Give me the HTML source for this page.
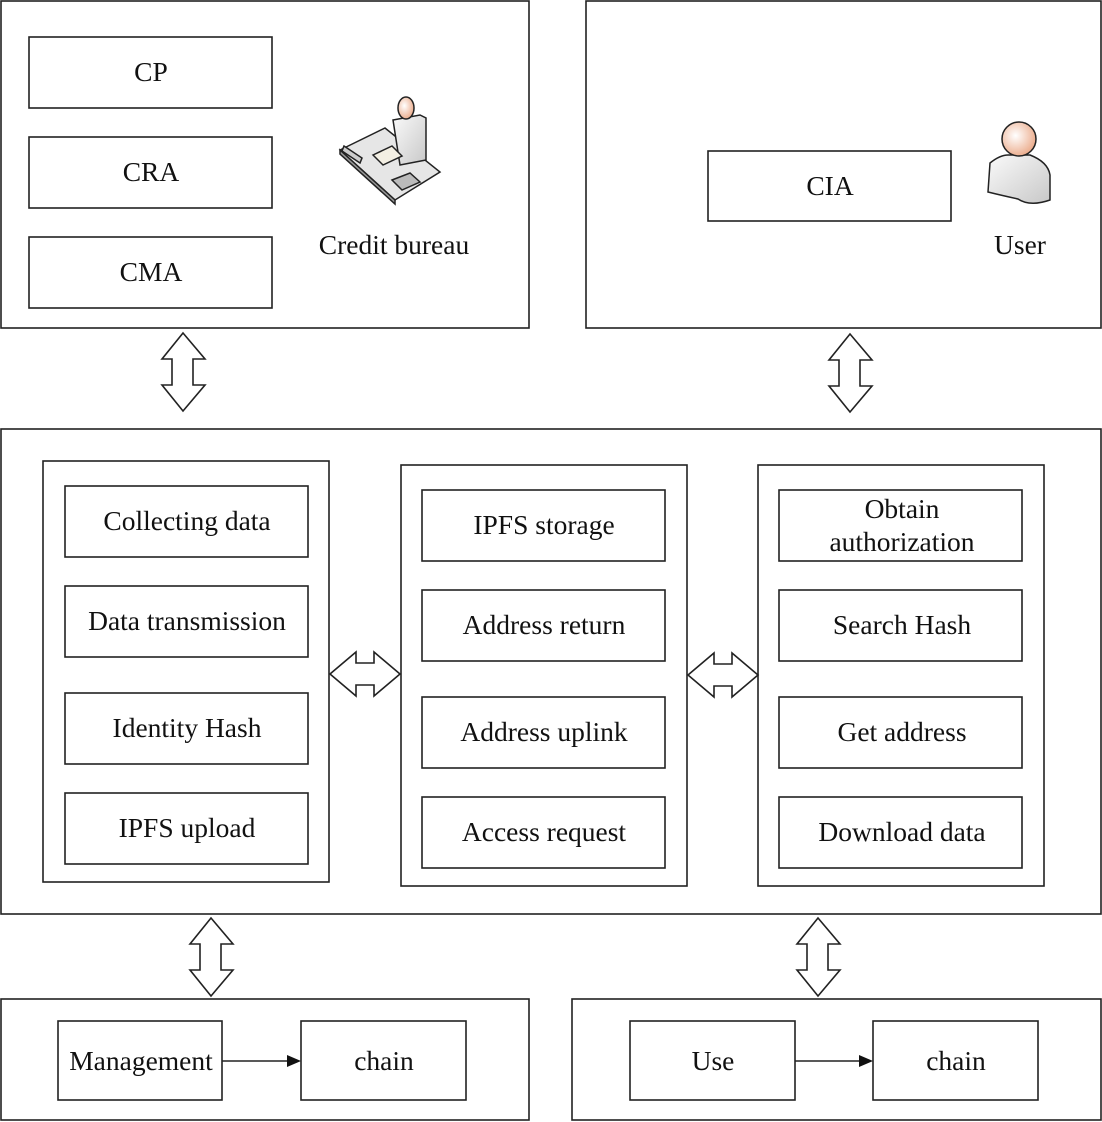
<!DOCTYPE html>
<html><head><style>body{margin:0;background:#fff}svg{display:block}text{font-family:"Liberation Serif",serif;font-size:27.5px;fill:#111}</style></head>
<body>
<svg width="1102" height="1122" viewBox="0 0 1102 1122" xmlns="http://www.w3.org/2000/svg">
<defs>
<radialGradient id="face" cx="0.4" cy="0.4" r="0.7"><stop offset="0" stop-color="#fff"/><stop offset="1" stop-color="#e9a27e"/></radialGradient>
<linearGradient id="body" x1="0" y1="0" x2="1" y2="1"><stop offset="0" stop-color="#fafafa"/><stop offset="1" stop-color="#c8c8c8"/></linearGradient>
</defs>
<g fill="none" stroke="#222" stroke-width="1.6">
<rect x="1" y="1" width="528" height="327"/>
<rect x="586" y="1" width="515" height="327"/>
<rect x="29" y="37" width="243" height="71"/>
<rect x="29" y="137" width="243" height="71"/>
<rect x="29" y="237" width="243" height="71"/>
<rect x="708" y="151" width="243" height="70"/>
<rect x="1" y="429" width="1100" height="485"/>
<rect x="43" y="461" width="286" height="421"/>
<rect x="401" y="465" width="286" height="421"/>
<rect x="758" y="465" width="286" height="421"/>
<rect x="65" y="486" width="243" height="71"/><rect x="65" y="586" width="243" height="71"/><rect x="65" y="693" width="243" height="71"/><rect x="65" y="793" width="243" height="71"/>
<rect x="422" y="490" width="243" height="71"/><rect x="422" y="590" width="243" height="71"/><rect x="422" y="697" width="243" height="71"/><rect x="422" y="797" width="243" height="71"/>
<rect x="779" y="490" width="243" height="71"/><rect x="779" y="590" width="243" height="71"/><rect x="779" y="697" width="243" height="71"/><rect x="779" y="797" width="243" height="71"/>
<rect x="1" y="999" width="528" height="121"/>
<rect x="572" y="999" width="529" height="121"/>
<rect x="58" y="1021" width="164" height="79"/><rect x="301" y="1021" width="165" height="79"/>
<rect x="630" y="1021" width="165" height="79"/><rect x="873" y="1021" width="165" height="79"/>
<path d="M183,333 L205,359 L193,359 L193,385 L205,385 L183,411 L162,385 L172,385 L172,359 L162,359 Z"/>
<path d="M850,334 L872,360 L860,360 L860,386 L872,386 L850,412 L829,386 L839,386 L839,360 L829,360 Z"/>
<path d="M211,918 L233,944 L221,944 L221,970 L233,970 L211,996 L190,970 L200,970 L200,944 L190,944 Z"/>
<path d="M818,918 L840,944 L828,944 L828,970 L840,970 L818,996 L797,970 L807,970 L807,944 L797,944 Z"/>
<path d="M330,674 L356,652 L356,663 L374,663 L374,652 L400,674 L374,696 L374,685 L356,685 L356,696 Z"/>
<path d="M688,675 L714,653 L714,664 L732,664 L732,653 L758,675 L732,697 L732,686 L714,686 L714,697 Z"/>
<line x1="222" y1="1061" x2="290" y2="1061"/>
<line x1="795" y1="1061" x2="862" y2="1061"/>
</g>
<path d="M301,1061 L287,1055 L287,1067 Z" fill="#111"/>
<path d="M873,1061 L859,1055 L859,1067 Z" fill="#111"/>
<g stroke="#222" stroke-width="1.5">
<path d="M340,150 L385,128 L440,172 L395,200 Z" fill="#e6e6e6"/>
<path d="M340,150 L395,200 L395,204 L340,154 Z" fill="#999"/>
<path d="M393,120 L420,115 L426,118 L426,160 L400,165 Z" fill="url(#body)"/>
<ellipse cx="406" cy="108" rx="8" ry="11" fill="url(#face)"/>
<path d="M373,155 L392,146 L402,156 L383,165 Z" fill="#f3efe3"/>
<path d="M344,146 L362,158 L360,163 L342,151 Z" fill="#ccc"/>
<path d="M392,180 L410,173 L420,182 L402,190 Z" fill="#bbb"/>
<path d="M990,163 Q1000,155 1008,155 L1030,155 Q1048,162 1050,175 L1050,200 Q1030,207 1018,199 Q1000,195 988,192 Z" fill="url(#body)"/>
</g>
<circle cx="1019" cy="139" r="17" fill="url(#face)" stroke="#222" stroke-width="1.5"/>
<g text-anchor="middle">
<text x="151" y="81">CP</text>
<text x="151" y="181">CRA</text>
<text x="151" y="281">CMA</text>
<text x="394" y="254">Credit bureau</text>
<text x="830" y="195">CIA</text>
<text x="1020" y="254">User</text>
<text x="187" y="530">Collecting data</text>
<text x="187" y="630">Data transmission</text>
<text x="187" y="737">Identity Hash</text>
<text x="187" y="837">IPFS upload</text>
<text x="544" y="534">IPFS storage</text>
<text x="544" y="634">Address return</text>
<text x="544" y="741">Address uplink</text>
<text x="544" y="841">Access request</text>
<text x="902" y="518">Obtain</text>
<text x="902" y="551">authorization</text>
<text x="902" y="634">Search Hash</text>
<text x="902" y="741">Get address</text>
<text x="902" y="841">Download data</text>
<text x="141" y="1070">Management</text>
<text x="384" y="1070">chain</text>
<text x="713" y="1070">Use</text>
<text x="956" y="1070">chain</text>
</g>
</svg>
</body></html>
